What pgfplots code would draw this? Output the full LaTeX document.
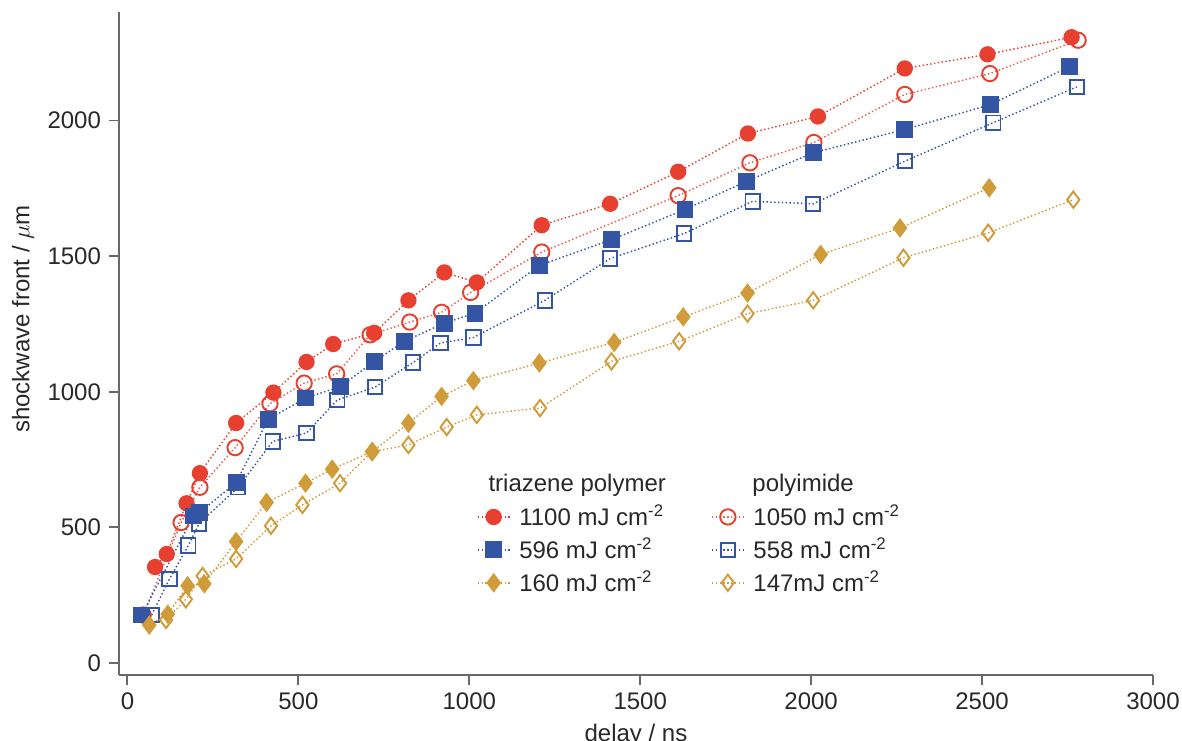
\documentclass[border=0pt]{standalone}
\usepackage{fontspec}
\setmainfont{Liberation Sans}
\usepackage{pgfplots}
\pgfplotsset{compat=1.18}
\definecolor{cred}{RGB}{232,64,48}
\definecolor{cblue}{RGB}{52,84,164}
\definecolor{cgold}{RGB}{208,156,58}
\definecolor{axgray}{RGB}{105,105,105}
\definecolor{txt}{RGB}{40,40,40}
\begin{document}
\begin{tikzpicture}
\begin{axis}[
  scale only axis, width=430.9pt, height=276.3pt,
  xmin=-24.6, xmax=3000, ymin=-44, ymax=2400,
  axis x line*=bottom, axis y line*=left,
  axis line style={axgray, line width=0.8pt},
  tick style={axgray, line width=0.8pt},
  tick align=outside, major tick length=4pt,
  xtick={0,500,...,3000}, ytick={0,500,...,2000},
  /pgf/number format/assume math mode=true,
  /pgf/number format/1000 sep={},
  tick label style={font=\fontsize{10}{12}\selectfont, text=txt},
  label style={font=\fontsize{10}{12}\selectfont, text=txt},
  xlabel={delay / ns}, ylabel={shockwave front / $\mu$m},
  xlabel style={yshift=1pt},
  ylabel style={at={(rel axis cs:-0.0928,0.537)}, anchor=center, rotate=0},
  legend columns=2,
  legend cell align=left,
  legend style={draw=none, fill=none, at={(axis cs:1000,620)}, anchor=north west,
    font=\fontsize{10}{12}\selectfont, text=txt, row sep=-0.3pt,
    /tikz/every even column/.append style={column sep=17.5pt}},
  legend image code/.code={\draw[mark repeat=2,mark phase=2,#1] plot coordinates {(0cm,0cm)(0.235cm,0cm)(0.47cm,0cm)};},
  every axis plot/.append style={densely dotted, line width=0.6pt},
]
\addplot[cred, mark=*, mark size=3.1pt, mark options={solid, fill=cred, draw=cred}] coordinates {
(81,354)(115,402)(173,589)(212,700)(318,885)(427,997)(524,1110)(602,1176)(722,1217)(822,1337)
(927,1440)(1022,1403)(1212,1614)(1412,1693)(1611,1811)(1815,1952)(2020,2015)(2274,2192)(2516,2244)(2762,2307)};
\addlegendentry{\,1100 mJ cm\textsuperscript{-2}}
\addplot[cred!85, mark=o, mark size=3.2pt, mark options={solid, line width=0.8pt, draw=cred}] coordinates {
(46,177)(157,518)(212,648)(315,794)(417,956)(517,1032)(612,1066)(710,1210)(826,1257)(919,1293)
(1004,1366)(1212,1515)(1611,1723)(1821,1844)(2008,1919)(2274,2096)(2523,2173)(2781,2296)};
\addlegendentry{\,1050 mJ cm\textsuperscript{-2}}
\addplot[cblue, mark=square*, mark size=3.2pt, mark options={solid, fill=cblue, draw=cblue}] coordinates {
(42,177)(193,542)(212,556)(318,665)(412,899)(522,977)(624,1020)(722,1112)(810,1186)(927,1253)
(1017,1290)(1205,1466)(1417,1561)(1631,1672)(1811,1776)(2006,1881)(2274,1967)(2525,2059)(2755,2198)};
\addlegendentry{\,596 mJ cm\textsuperscript{-2}}
\addplot[cblue, mark=square, mark size=3pt, mark options={solid, line width=0.8pt, draw=cblue}] coordinates {
(71,177)(123,310)(178,433)(210,515)(324,648)(425,817)(524,848)(614,970)(724,1017)(836,1108)
(916,1180)(1012,1200)(1221,1337)(1412,1491)(1628,1583)(1829,1702)(2006,1693)(2274,1850)(2533,1992)(2777,2124)};
\addlegendentry{\,558 mJ cm\textsuperscript{-2}}
\addplot[cgold, mark=diamond*, mark size=3.6pt, mark options={solid, fill=cgold, draw=cgold}] coordinates {
(64,140)(118,180)(176,285)(225,292)(318,448)(407,592)(521,663)(599,715)(717,780)(822,884)
(919,983)(1012,1041)(1205,1106)(1424,1182)(1626,1276)(1814,1364)(2028,1506)(2260,1604)(2521,1752)};
\addlegendentry{\,160 mJ cm\textsuperscript{-2}}
\addplot[cgold, mark=diamond, mark size=3.4pt, mark options={solid, line width=0.8pt, draw=cgold}] coordinates {
(113,159)(171,235)(220,321)(318,384)(420,506)(512,583)(622,663)(715,779)(822,804)(934,870)
(1022,915)(1207,940)(1416,1112)(1614,1186)(1814,1288)(2006,1337)(2270,1494)(2518,1586)(2767,1708)};
\addlegendentry{\,147mJ cm\textsuperscript{-2}}
\node[anchor=west, inner sep=0pt, font=\fontsize{10}{12}\selectfont, text=txt] at (axis cs:1055,657) {triazene polymer};
\node[anchor=west, inner sep=0pt, font=\fontsize{10}{12}\selectfont, text=txt] at (axis cs:1827,657) {polyimide};
\coordinate (bl) at (rel axis cs:0,0);
\coordinate (tr) at (rel axis cs:1,1);
\end{axis}
\pgfresetboundingbox
\path ([xshift=-49.6pt,yshift=-27.5pt]bl) rectangle ([xshift=12.1pt,yshift=5pt]tr);
\end{tikzpicture}
\end{document}
